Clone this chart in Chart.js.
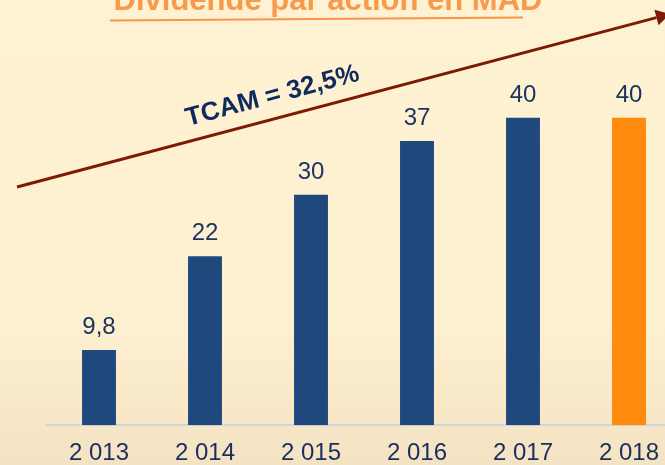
<!DOCTYPE html>
<html>
<head>
<meta charset="utf-8">
<script src="https://cdn.jsdelivr.net/npm/chart.js@4/dist/chart.umd.min.js"></script>
<style>
  html, body { margin: 0; padding: 0; }
  #wrap {
    width: 665px; height: 465px; overflow: hidden; position: relative;
    background: linear-gradient(180deg, #fff2d2 0%, #fdf0d0 70%, #f4e3c2 100%);
  }
  #divChart { position: absolute; left: 0; top: 0; }
</style>
</head>
<body>
<div id="wrap"><canvas id="divChart" width="690" height="487"></canvas></div>
<script>
// Données
const years = ['2 013', '2 014', '2 015', '2 016', '2 017', '2 018'];
const dividends = [9.8, 22, 30, 37, 40, 40];
const barColors = ['#1f497d', '#1f497d', '#1f497d', '#1f497d', '#1f497d', '#ff8a0d'];

// valeurs au-dessus des barres
const valueLabels = {
  id: 'valueLabels',
  afterDatasetsDraw(chart) {
    const { ctx } = chart;
    const meta = chart.getDatasetMeta(0);
    ctx.save();
    ctx.font = '24px Arial, "Liberation Sans", sans-serif';
    ctx.fillStyle = '#1c3461';
    ctx.textAlign = 'center';
    ctx.textBaseline = 'alphabetic';
    meta.data.forEach((bar, i) => {
      ctx.fillText(String(dividends[i]).replace('.', ','), bar.x, bar.y - 16);
    });
    ctx.restore();
  }
};

// titre, flèche et TCAM
const decor = {
  id: 'decor',
  afterDraw(chart) {
    const { ctx } = chart;
    ctx.save();
    ctx.font = 'bold 31px Arial, "Liberation Sans", sans-serif';
    ctx.fillStyle = '#f89a4c';
    ctx.textAlign = 'center';
    ctx.fillText('Dividende par action en MAD', 328, 10);

    ctx.strokeStyle = '#f79646';
    ctx.lineWidth = 2;
    ctx.beginPath();
    ctx.moveTo(110, 20.5);
    ctx.lineTo(523, 17.5);
    ctx.stroke();

    // flèche
    const x0 = 17, y0 = 187, x1 = 670, y1 = 14;
    const ang = Math.atan2(y1 - y0, x1 - x0);
    const headLen = 14, headW = 8;
    const bx = x1 - headLen * Math.cos(ang), by = y1 - headLen * Math.sin(ang);
    ctx.strokeStyle = '#7b1a05';
    ctx.fillStyle = '#7b1a05';
    ctx.lineWidth = 3;
    ctx.beginPath();
    ctx.moveTo(x0, y0);
    ctx.lineTo(bx, by);
    ctx.stroke();
    ctx.beginPath();
    ctx.moveTo(x1, y1);
    ctx.lineTo(bx + headW * Math.sin(ang), by - headW * Math.cos(ang));
    ctx.lineTo(bx - headW * Math.sin(ang), by + headW * Math.cos(ang));
    ctx.closePath();
    ctx.fill();

    ctx.translate(188, 126);
    ctx.rotate(ang);
    ctx.font = 'bold 26px Arial, "Liberation Sans", sans-serif';
    ctx.fillStyle = '#0f2b5e';
    ctx.textAlign = 'left';
    ctx.fillText('TCAM = 32,5%', 0, 0);
    ctx.restore();
  }
};

const ctx = document.getElementById('divChart').getContext('2d');
new Chart(ctx, {
  type: 'bar',
  data: {
    labels: years,
    datasets: [{
      data: dividends,
      backgroundColor: barColors,
      borderWidth: 0,
      barPercentage: 0.32,
      categoryPercentage: 1
    }]
  },
  options: {
    responsive: false,
    animation: false,
    layout: { padding: { left: 46, right: 8, top: 41, bottom: 5 } },
    plugins: { legend: { display: false }, tooltip: { enabled: false } },
    scales: {
      x: {
        grid: { display: false, drawTicks: false },
        border: { display: true, color: '#cdd5de', width: 2 },
        ticks: {
          color: '#1a2d5e',
          padding: 14,
          font: { family: 'Arial, "Liberation Sans", sans-serif', size: 24, lineHeight: 1.2 }
        }
      },
      y: { display: false, min: 0, max: 50 }
    }
  },
  plugins: [valueLabels, decor]
});
</script>
</body>
</html>
